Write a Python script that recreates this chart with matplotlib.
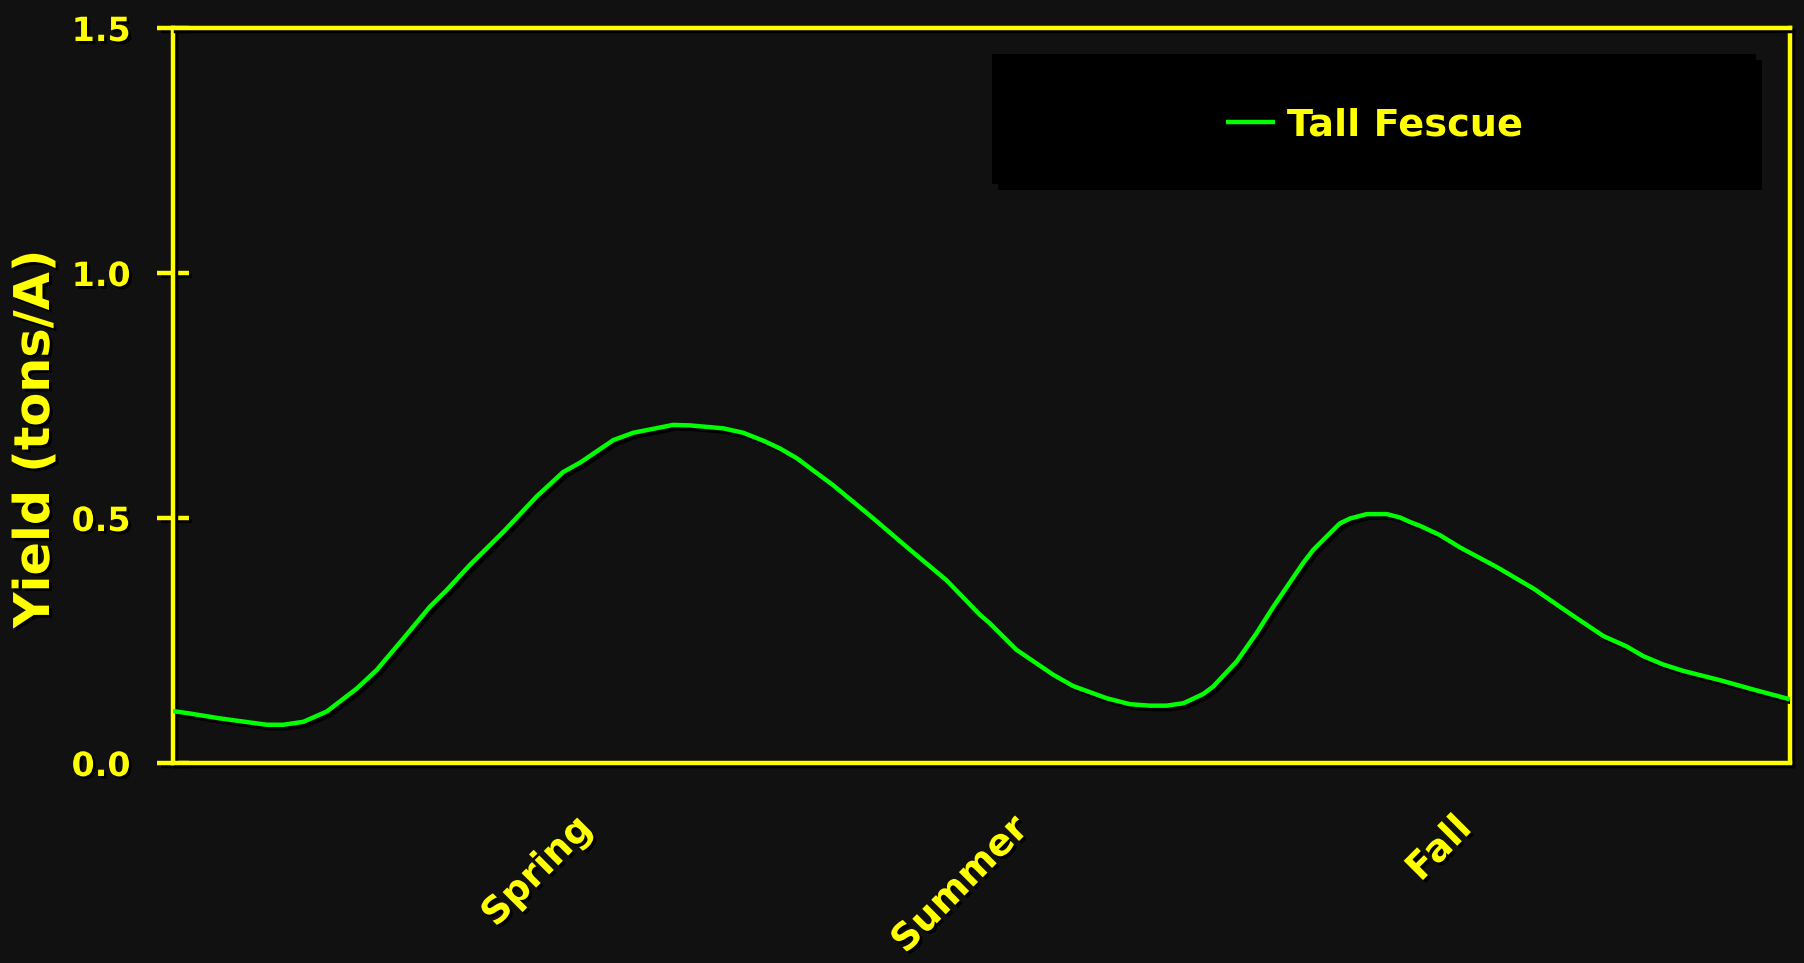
import matplotlib
matplotlib.use('Agg')
import matplotlib.pyplot as plt
import matplotlib.patheffects as pe
from matplotlib.patches import Rectangle

# 生长曲线数据 (day of year, tons/A)
day = [0, 3.8, 10.6, 21.2, 24.9, 29.4, 34.7, 41.5, 46.0, 52.0, 58.0, 61.8, 67.0,
       74.6, 82.1, 88.1, 91.9, 99.4, 103.9, 112.9, 116.7, 124.2, 128.7, 133.2,
       137.0, 140.8, 149.0, 158.1, 165.6, 174.6, 182.2, 184.4, 190.4, 198.7,
       203.2, 210.8, 216.0, 220.5, 224.3, 228.1, 232.6, 234.8, 240.1, 244.6,
       248.4, 255.1, 257.4, 263.4, 265.7, 269.5, 274.0, 277.0, 279.2, 281.5,
       286.0, 290.5, 298.8, 307.1, 315.3, 322.9, 328.1, 331.9, 336.4, 340.9,
       349.2, 356.7, 365]
tall_fescue = [0.106, 0.101, 0.091, 0.078, 0.078, 0.084, 0.105, 0.152, 0.190,
               0.254, 0.319, 0.353, 0.404, 0.472, 0.544, 0.594, 0.613, 0.659,
               0.674, 0.690, 0.689, 0.683, 0.674, 0.658, 0.642, 0.622, 0.567,
               0.499, 0.441, 0.373, 0.302, 0.285, 0.231, 0.180, 0.157, 0.132,
               0.120, 0.117, 0.117, 0.122, 0.141, 0.156, 0.207, 0.265, 0.319,
               0.408, 0.435, 0.489, 0.499, 0.508, 0.508, 0.501, 0.492, 0.484,
               0.465, 0.440, 0.400, 0.356, 0.305, 0.259, 0.238, 0.218, 0.201,
               0.188, 0.169, 0.150, 0.130]

season_pos = [90.5, 189, 289]
season_names = ['Spring', 'Summer', 'Fall']
yticks = [0.0, 0.5, 1.0, 1.5]

bg = '#111111'
yellow = '#FFFF00'
green = '#00FF00'

txt_shadow = [pe.SimplePatchShadow(offset=(2, -2), shadow_rgbFace='black', alpha=1.0), pe.Normal()]
line_shadow = [pe.SimpleLineShadow(offset=(2.5, -2.5), shadow_color='black', alpha=1.0), pe.Normal()]

fig = plt.figure(figsize=(18.04, 9.63), dpi=100, facecolor=bg)
ax = fig.add_axes([0.0959, 0.2077, 0.8963, 0.7632])
ax.set_facecolor(bg)

ax.plot(day, tall_fescue, color=green, lw=3.2, label='Tall Fescue',
        path_effects=line_shadow, zorder=3, solid_capstyle='butt')

ax.set_xlim(day[0], day[-1])
ax.set_ylim(0, 1.5)

for s in ax.spines.values():
    s.set_color(yellow)
    s.set_linewidth(3.2)
    s.set_path_effects(line_shadow)

ax.set_yticks(yticks)
ax.set_yticklabels(['%.1f' % v for v in yticks])
ax.tick_params(axis='y', direction='inout', length=23, width=3.2, color=yellow,
               labelcolor=yellow, labelsize=24, pad=19)
ax.set_xticks(season_pos)
ax.set_xticklabels(season_names, rotation=45, ha='right', rotation_mode='anchor')
ax.tick_params(axis='x', length=0, labelcolor=yellow, labelsize=27, pad=34)

for lab in ax.get_yticklabels() + ax.get_xticklabels():
    lab.set_fontweight('bold')
    lab.set_path_effects(txt_shadow)
for t in ax.yaxis.get_major_ticks():
    t.tick1line.set_path_effects(line_shadow)

fig.text(0.0194, 0.544, 'Yield (tons/A)', rotation=90, ha='center', va='center',
         color=yellow, fontsize=35.5, fontweight='bold', path_effects=txt_shadow)

# 图例背景框
box = Rectangle((0.5065, 0.7878), 0.4725, 0.1768, transform=ax.transAxes,
                facecolor='black', edgecolor='none', zorder=4,
                path_effects=[pe.SimplePatchShadow(offset=(4, -4), shadow_rgbFace='black', alpha=1.0), pe.Normal()])
ax.add_patch(box)
leg = ax.legend(loc='center', bbox_to_anchor=(0.7428, 0.867), frameon=False,
                fontsize=27.5, handlelength=1.3, handletextpad=0.3)
leg.set_zorder(5)
for t in leg.get_texts():
    t.set_color(yellow)
    t.set_fontweight('bold')

fig.savefig('out.png', dpi=100, facecolor=bg)
